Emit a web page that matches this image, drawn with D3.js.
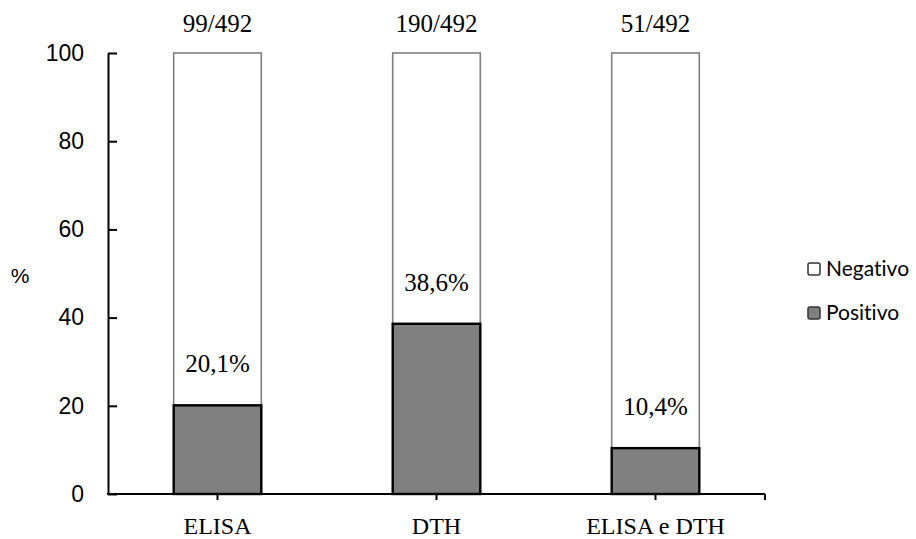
<!DOCTYPE html>
<html>
<head>
<meta charset="utf-8">
<script src="https://cdn.jsdelivr.net/npm/d3@7"></script>
<style>
  html, body { margin: 0; padding: 0; background: #fff; }
  svg { display: block; }
  text { font-variant-ligatures: none; }
</style>
</head>
<body>
<svg id="chart" width="916" height="539"></svg>
<script>
// Test results: share of positive animals per diagnostic method
const categories = ["ELISA", "DTH", "ELISA e DTH"];
const positivo = [20.1, 38.6, 10.4];
const positivoLabels = ["20,1%", "38,6%", "10,4%"];
const countLabels = ["99/492", "190/492", "51/492"];
const yTicks = [0, 20, 40, 60, 80, 100];
const legendItems = ["Negativo", "Positivo"];

const negativo = positivo.map(p => 100 - p);

const svg = d3.select("#chart");
const margin = { left: 108, right: 151, top: 53, bottom: 45 };
const W = 916, H = 539;

const x = d3.scaleBand()
  .domain(categories)
  .range([margin.left, W - margin.right])
  .paddingInner(0.6)
  .paddingOuter(0.3);

const y = d3.scaleLinear()
  .domain([0, 100])
  .range([H - margin.bottom, margin.top]);

const serif = "'Liberation Serif', 'Times New Roman', serif";
const sans = "'Liberation Sans', Arial, sans-serif";

// Negativo segments (stacked above positivo)
svg.append("g").selectAll("rect")
  .data(categories)
  .join("rect")
  .attr("x", d => x(d))
  .attr("width", x.bandwidth())
  .attr("y", y(100))
  .attr("height", (d, i) => y(positivo[i]) - y(100))
  .attr("fill", "#ffffff")
  .attr("stroke", "#7f7f7f")
  .attr("stroke-width", 1.6);

// Positivo segments
svg.append("g").selectAll("rect")
  .data(categories)
  .join("rect")
  .attr("x", d => x(d))
  .attr("width", x.bandwidth())
  .attr("y", (d, i) => y(positivo[i]))
  .attr("height", (d, i) => y(0) - y(positivo[i]))
  .attr("fill", "#808080")
  .attr("stroke", "#000000")
  .attr("stroke-width", 2.4);

// Y axis with inward ticks
const yAxis = svg.append("g")
  .attr("transform", `translate(${margin.left},0)`)
  .call(d3.axisLeft(y).tickValues(yTicks).tickSize(-9).tickPadding(24).tickSizeOuter(0));
yAxis.select(".domain").attr("stroke", "#000").attr("stroke-width", 2);
yAxis.selectAll(".tick line").attr("stroke", "#000").attr("stroke-width", 2);
yAxis.selectAll(".tick text")
  .attr("font-family", sans)
  .attr("font-size", 23)
  .attr("fill", "#000");

// X axis
const xAxisG = svg.append("g")
  .attr("transform", `translate(0,${y(0)})`);
xAxisG.append("line")
  .attr("x1", margin.left - 1)
  .attr("x2", W - margin.right)
  .attr("stroke", "#000")
  .attr("stroke-width", 2);
const xTickPositions = categories.map(c => x(c) + x.bandwidth() / 2).concat([W - margin.right]);
xAxisG.selectAll(".xt")
  .data(xTickPositions)
  .join("line")
  .attr("class", "xt")
  .attr("x1", d => d).attr("x2", d => d)
  .attr("y1", 0).attr("y2", 6)
  .attr("stroke", "#000")
  .attr("stroke-width", 2);
xAxisG.selectAll(".xl")
  .data(categories)
  .join("text")
  .attr("class", "xl")
  .attr("x", d => x(d) + x.bandwidth() / 2)
  .attr("y", 40)
  .attr("text-anchor", "middle")
  .attr("font-family", serif)
  .attr("font-size", 24)
  .attr("fill", "#000")
  .text(d => d);

// Y title
svg.append("text")
  .attr("x", 20)
  .attr("y", 283)
  .attr("text-anchor", "middle")
  .attr("font-family", sans)
  .attr("font-size", 21)
  .attr("fill", "#000")
  .text("%");

// Percentage labels above positive segments
svg.append("g").selectAll("text")
  .data(categories)
  .join("text")
  .attr("x", d => x(d) + x.bandwidth() / 2)
  .attr("y", (d, i) => y(positivo[i]) - 33)
  .attr("text-anchor", "middle")
  .attr("font-family", serif)
  .attr("font-size", 25)
  .attr("fill", "#000")
  .text((d, i) => positivoLabels[i]);

// Counts above bars
svg.append("g").selectAll("text")
  .data(categories)
  .join("text")
  .attr("x", d => x(d) + x.bandwidth() / 2)
  .attr("y", 32)
  .attr("text-anchor", "middle")
  .attr("font-family", serif)
  .attr("font-size", 25)
  .attr("fill", "#000")
  .text((d, i) => countLabels[i]);

// Legend
const legendFill = { "Negativo": "#ffffff", "Positivo": "#808080" };
const legend = svg.append("g").attr("transform", "translate(808,263)");
const li = legend.selectAll("g")
  .data(legendItems)
  .join("g")
  .attr("transform", (d, i) => `translate(0,${i * 44})`);
li.append("rect")
  .attr("x", 0).attr("y", 0)
  .attr("width", 12).attr("height", 12)
  .attr("rx", 2)
  .attr("fill", d => legendFill[d])
  .attr("stroke", "#333")
  .attr("stroke-width", 1.5);
li.append("text")
  .attr("x", 18)
  .attr("y", 13)
  .attr("font-family", "Lato, 'Open Sans', sans-serif")
  .attr("font-size", 21)
  .attr("fill", "#000")
  .text(d => d);
</script>
</body>
</html>
